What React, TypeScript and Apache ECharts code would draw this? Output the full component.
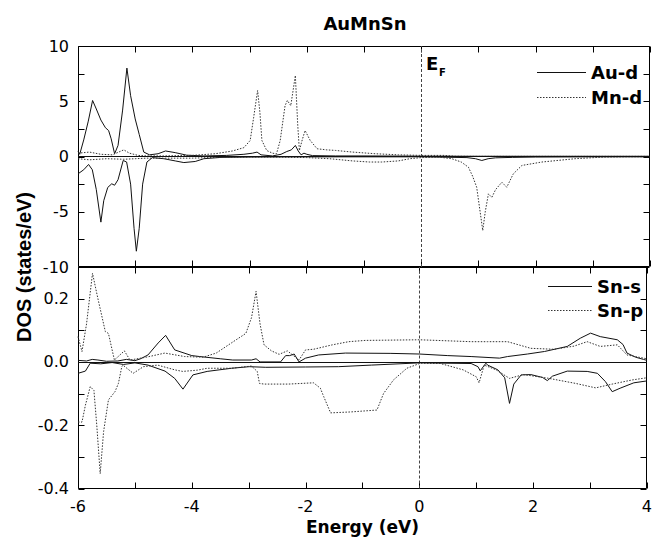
import React, { useEffect, useRef } from "react";
import * as echarts from "echarts";

// ---- Data (energy in eV, DOS in states/eV) ----
const auUpE = [-6, -5.97, -5.9, -5.82, -5.745, -5.68, -5.6, -5.52, -5.465, -5.42, -5.36, -5.3, -5.22, -5.145, -5.08, -5.0, -4.93, -4.85, -4.75, -4.6, -4.47, -4.3, -4.1, -3.8, -3.4, -3.1, -2.95, -2.87, -2.8, -2.6, -2.45, -2.35, -2.27, -2.2, -2.15, -2.1, -2.05, -2.0, -1.9, -1.5, -1, 0, 1, 2, 3, 4];
const auUpV = [0.5, 0.2, 1.5, 3.2, 5.07, 4.3, 3.3, 2.6, 2.35, 1.6, 0.25, 1.0, 4.2, 8.0, 5.5, 3.4, 2.0, 0.4, 0.15, 0.25, 0.5, 0.35, 0.12, 0.05, 0.1, 0.2, 0.3, 0.4, 0.15, 0.05, 0.2, 0.45, 0.6, 1.0, 0.5, 0.15, 0.3, 0.2, 0.08, 0.05, 0.05, 0.03, 0.02, 0.02, 0.02, 0.02];

const auDnE = [-6, -5.9, -5.815, -5.75, -5.68, -5.6, -5.55, -5.48, -5.41, -5.36, -5.3, -5.21, -5.15, -5.08, -5.02, -4.98, -4.93, -4.87, -4.795, -4.7, -4.5, -4.3, -4.15, -3.95, -3.8, -3.5, -3, -2, -1, 0, 0.8, 0.95, 1.06, 1.17, 1.3, 1.6, 2, 3, 4];
const auDnV = [-1.57, -1.2, -0.72, -1.2, -3.0, -5.94, -4.0, -2.8, -2.47, -2.6, -2.1, -0.36, -0.5, -2.5, -6.5, -8.57, -6.5, -2.5, -0.5, -0.1, -0.2, -0.4, -0.55, -0.45, -0.2, -0.08, -0.05, -0.03, -0.03, -0.03, -0.1, -0.2, -0.36, -0.2, -0.12, -0.08, -0.05, -0.03, -0.03];

const mnUpE = [-6, -5.8, -5.6, -5.4, -5.2, -5.1, -4.95, -4.8, -4.5, -4.0, -3.6, -3.3, -3.1, -2.99, -2.93, -2.86, -2.82, -2.785, -2.7, -2.6, -2.53, -2.465, -2.38, -2.34, -2.28, -2.2, -2.16, -2.13, -2.08, -2.03, -1.94, -1.82, -1.65, -1.5, -1.2, -0.8, -0.4, 0, 0.4, 0.6, 1, 2, 3, 4];
const mnUpV = [0.3, 0.4, 0.2, 0.15, 0.6, 0.3, 0.1, 0.05, 0.05, 0.1, 0.25, 0.5, 0.8, 1.45, 3.5, 5.97, 4.0, 1.45, 0.54, 0.3, 0.24, 1.45, 4.6, 5.07, 4.6, 7.33, 3.0, 0.54, 1.5, 2.35, 1.45, 0.7, 0.6, 0.55, 0.4, 0.25, 0.15, 0.1, 0.1, 0.02, 0.01, 0.01, 0.01, 0.01];

const mnDnE = [-6, -5.8, -5.5, -5.2, -5.0, -4.8, -4.5, -4.0, -3.6, -3.0, -2.5, -2.0, -1.6, -1.2, -0.9, -0.69, -0.4, -0.2, 0, 0.3, 0.535, 0.7, 0.826, 0.9, 0.97, 1.03, 1.076, 1.12, 1.175, 1.235, 1.3, 1.41, 1.496, 1.61, 1.76, 2.11, 2.69, 3.2, 3.6, 4];
const mnDnV = [-0.2, -0.3, -0.2, -0.25, -0.2, -0.15, -0.15, -0.15, -0.08, -0.05, -0.05, -0.1, -0.2, -0.4, -0.5, -0.5, -0.4, -0.2, -0.1, -0.05, -0.2, -0.5, -0.97, -1.8, -2.78, -5.0, -6.7, -5.0, -3.38, -3.7, -3.0, -2.33, -2.78, -1.57, -0.81, -0.5, -0.2, -0.05, -0.02, -0.02];

const snsUpE = [-6, -5.85, -5.75, -5.65, -5.5, -5.3, -5.15, -5.0, -4.9, -4.77, -4.59, -4.46, -4.3, -4.0, -3.86, -3.5, -3.28, -2.95, -2.87, -2.8, -2.44, -2.35, -2.28, -2.2, -2.115, -2.0, -1.77, -1.3, -0.5, 0, 0.5, 0.91, 1.41, 1.55, 1.9, 2.2, 2.6, 2.83, 3.01, 3.18, 3.48, 3.58, 3.65, 3.8, 3.94, 4];
const snsUpV = [0.005, 0.003, 0.008, 0.006, 0.002, 0.003, 0.008, 0.004, 0.01, 0.022, 0.06, 0.084, 0.038, 0.02, 0.017, 0.01, 0.006, 0.006, 0.01, 0.0, 0.0, 0.02, 0.02, 0.025, 0.0, 0.012, 0.022, 0.028, 0.027, 0.025, 0.02, 0.017, 0.012, 0.017, 0.025, 0.033, 0.049, 0.075, 0.091, 0.08, 0.07, 0.055, 0.028, 0.015, 0.008, 0.005];

const snsDnE = [-6, -5.87, -5.785, -5.6, -5.4, -5.2, -5.0, -4.77, -4.47, -4.3, -4.155, -3.98, -3.73, -3.3, -2.99, -2.7, -2.0, -1.42, -0.84, 0, 0.91, 1.03, 1.07, 1.17, 1.2, 1.38, 1.5, 1.585, 1.66, 1.79, 1.96, 2.165, 2.25, 2.34, 2.6, 2.95, 3.13, 3.27, 3.39, 3.53, 3.77, 4];
const snsDnV = [-0.036, -0.029, -0.004, -0.006, -0.002, -0.008, -0.003, -0.01, -0.029, -0.052, -0.086, -0.041, -0.03, -0.02, -0.015, -0.017, -0.016, -0.015, -0.01, -0.003, -0.005, -0.015, -0.028, -0.004, -0.01, -0.025, -0.05, -0.131, -0.07, -0.041, -0.04, -0.049, -0.059, -0.045, -0.029, -0.03, -0.036, -0.062, -0.094, -0.083, -0.066, -0.06];

const snpUpE = [-6, -5.93, -5.85, -5.745, -5.65, -5.52, -5.465, -5.36, -5.185, -5.086, -4.8, -4.474, -4.125, -3.8, -3.57, -3.22, -3.05, -2.95, -2.87, -2.8, -2.73, -2.6, -2.465, -2.32, -2.115, -2.0, -1.86, -1.53, -1.24, -0.95, 0, 0.91, 1.2, 1.55, 1.96, 2.37, 2.72, 2.95, 3.18, 3.48, 3.65, 3.94, 4];
const snpUpV = [0.08, 0.033, 0.12, 0.28, 0.2, 0.096, 0.09, 0.006, 0.035, 0.006, 0.015, 0.028, 0.017, 0.015, 0.028, 0.07, 0.09, 0.14, 0.223, 0.12, 0.054, 0.035, 0.024, 0.035, 0.006, 0.038, 0.04, 0.054, 0.064, 0.068, 0.07, 0.064, 0.064, 0.064, 0.043, 0.04, 0.05, 0.064, 0.049, 0.054, 0.022, 0.012, 0.01];

const snpDnE = [-6, -5.93, -5.87, -5.785, -5.72, -5.67, -5.61, -5.55, -5.465, -5.35, -5.29, -5.23, -5.21, -5.03, -4.85, -4.6, -4.3, -4.16, -3.9, -3.73, -3.3, -2.95, -2.85, -2.81, -2.73, -2.3, -1.86, -1.74, -1.68, -1.56, -1.2, -0.745, -0.63, -0.455, -0.22, 0.02, 0.37, 0.77, 1.0, 1.05, 1.14, 1.35, 1.585, 1.83, 2.28, 2.75, 3.1, 3.39, 3.74, 4];
const snpDnV = [-0.19, -0.19, -0.137, -0.078, -0.09, -0.2, -0.353, -0.22, -0.12, -0.094, -0.068, -0.015, -0.01, -0.036, -0.015, -0.01, -0.025, -0.03, -0.026, -0.02, -0.02, -0.013, -0.03, -0.068, -0.07, -0.07, -0.066, -0.083, -0.11, -0.161, -0.158, -0.152, -0.1, -0.057, -0.02, -0.004, -0.005, -0.025, -0.047, -0.066, -0.01, -0.025, -0.052, -0.04, -0.052, -0.068, -0.082, -0.07, -0.057, -0.05];

const energyRange = [-6, 4];
const topRange = [-10, 10];
const bottomRange = [-0.4, 0.3];
const fermiLevel = 0;

// tick positions (every tick gets a mark; labels only on every other one)
const energyTicks = [-6, -5, -4, -3, -2, -1, 0, 1, 2, 3, 4];
const topTicks = [-10, -7.5, -5, -2.5, 0, 2.5, 5, 7.5, 10];
const bottomTicks = [-0.4, -0.3, -0.2, -0.1, 0, 0.1, 0.2, 0.3];

const titleText = "AuMnSn";
const xName = "Energy (eV)";
const yName = "DOS (states/eV)";
const topLegend = ["Au-d", "Mn-d"];
const bottomLegend = ["Sn-s", "Sn-p"];

const FONT = "DejaVu Sans";
const W = 655;
const H = 540;
const GRIDS = [
  { left: 78, right: 5, top: 46, height: 221 },
  { left: 78, right: 5, top: 267, height: 221.5 },
];

const zip = (xs: number[], ys: number[]) => xs.map((x, i) => [x, ys[i]]);

export default function App() {
  const ref = useRef<HTMLDivElement>(null);

  useEffect(() => {
    if (!ref.current) return;
    const chart = echarts.init(ref.current, undefined, { renderer: "svg" });

    const labelStyle = () => ({ fontFamily: FONT, fontSize: 16, color: "#000" });

    const xAx = (grid: number, label: any) => ({
      type: "value",
      gridIndex: grid,
      position: "bottom",
      min: energyRange[0],
      max: energyRange[1],
      interval: 1,
      splitLine: { show: false },
      axisTick: { show: false },
      axisLine: { show: false, onZero: false },
      axisLabel: label,
    });
    const yAx = (grid: number, range: number[], interval: number, label: any) => ({
      type: "value",
      gridIndex: grid,
      position: "left",
      min: range[0],
      max: range[1],
      interval,
      splitLine: { show: false },
      axisTick: { show: false },
      axisLine: { show: false, onZero: false },
      axisLabel: label,
    });

    const solid = () => ({ color: "#111", width: 1, type: "solid" });
    const dotted = () => ({ color: "#333", width: 1, type: [1.5, 1.5] });

    const mkSeries = (name: string, xi: number, xs: number[], ys: number[], ls: any, extra: any = {}) => ({
      type: "line",
      name,
      xAxisIndex: xi,
      yAxisIndex: xi,
      data: zip(xs, ys),
      showSymbol: false,
      symbol: "none",
      lineStyle: ls,
      itemStyle: { color: ls.color },
      z: 3,
      ...extra,
    });

    const refLines = () => ({
      markLine: {
        silent: true,
        symbol: ["none", "none"],
        label: { show: false },
        data: [
          { xAxis: fermiLevel, lineStyle: { color: "#444", width: 1, type: [3, 2] } },
          { yAxis: 0, lineStyle: { color: "#111", width: 1, type: "solid" } },
        ],
      },
    });

    chart.setOption({
      animation: false,
      grid: GRIDS.map((g) => ({ ...g })),
      xAxis: [
        xAx(0, { show: false }),
        {
          ...xAx(1, {
            ...labelStyle(),
            margin: 10,
            formatter: (v: number) => (Math.round(v) % 2 === 0 ? String(Math.round(v)) : ""),
          }),
          name: xName,
          nameLocation: "middle",
          nameGap: 30,
          nameTextStyle: { fontFamily: FONT, fontSize: 17, fontWeight: "bold", color: "#000" },
        },
      ],
      yAxis: [
        yAx(0, topRange, 2.5, {
          ...labelStyle(),
          margin: 9,
          formatter: (v: number) => (Math.abs(v % 5) < 1e-9 ? String(v) : ""),
        }),
        yAx(1, bottomRange, 0.1, {
          ...labelStyle(),
          margin: 9,
          formatter: (v: number) => {
            const k = Math.round(v * 10);
            if (k % 2 !== 0 || k === 3) return "";
            const r = k / 10;
            return (r === 0 ? 0 : r).toFixed(1);
          },
        }),
      ],
      series: [
        mkSeries(topLegend[0], 0, auUpE, auUpV, solid(), refLines()),
        mkSeries(topLegend[0], 0, auDnE, auDnV, solid()),
        mkSeries(topLegend[1], 0, mnUpE, mnUpV, dotted()),
        mkSeries(topLegend[1], 0, mnDnE, mnDnV, dotted()),
        mkSeries(bottomLegend[0], 1, snsUpE, snsUpV, solid(), refLines()),
        mkSeries(bottomLegend[0], 1, snsDnE, snsDnV, solid()),
        mkSeries(bottomLegend[1], 1, snpUpE, snpUpV, dotted()),
        mkSeries(bottomLegend[1], 1, snpDnE, snpDnV, dotted()),
      ],
    });

    // pixel position of a data point, via the library's grid; falls back to the grid layout
    const toPx = (gi: number, x: number, y: number, yRange: number[]): number[] => {
      let p: any = null;
      try {
        p = chart.convertToPixel({ gridIndex: gi }, [x, y]);
      } catch (e) {
        p = null;
      }
      if (Array.isArray(p) && isFinite(p[0]) && isFinite(p[1])) return p as number[];
      const g = GRIDS[gi];
      const w = W - g.left - g.right;
      return [
        g.left + ((x - energyRange[0]) / (energyRange[1] - energyRange[0])) * w,
        g.top + g.height - ((y - yRange[0]) / (yRange[1] - yRange[0])) * g.height,
      ];
    };

    const st = { stroke: "#000", lineWidth: 1 };
    const seg = (x1: number, y1: number, x2: number, y2: number) => ({ type: "line", shape: { x1, y1, x2, y2 }, style: st });
    const frame = (gi: number, yRange: number[], yTicks: number[]) => {
      const tl = toPx(gi, energyRange[0], yRange[1], yRange);
      const br = toPx(gi, energyRange[1], yRange[0], yRange);
      const L = Math.round(tl[0]) + 0.5;
      const T = Math.round(tl[1]) + 0.5;
      const R = Math.round(br[0]) - 0.5;
      const B = Math.round(br[1]) - 0.5;
      const out: any[] = [seg(L, T, R, T), seg(L, B, R, B), seg(L, T, L, B), seg(R, T, R, B)];
      energyTicks.forEach((v) => {
        const px = Math.round(toPx(gi, v, yRange[0], yRange)[0]) + 0.5;
        out.push(seg(px, B, px, B - 6));
        out.push(seg(px, T, px, T + 6));
      });
      yTicks.forEach((v) => {
        const py = Math.round(toPx(gi, energyRange[0], v, yRange)[1]) + 0.5;
        out.push(seg(L, py, L + 6, py));
        out.push(seg(R, py, R - 6, py));
      });
      return out;
    };

    const legendFont = `bold 18px "${FONT}"`;
    const legendItems = (names: string[], x1: number, x2: number, ys: number[]) =>
      names.flatMap((n, i) => [
        {
          type: "line",
          shape: { x1, y1: ys[i] + 0.5, x2, y2: ys[i] + 0.5 },
          style: i === 0 ? { stroke: "#111", lineWidth: 1 } : { stroke: "#333", lineWidth: 1, lineDash: [1.5, 1.5] },
        },
        {
          type: "text",
          x: x2 + 5,
          y: ys[i],
          style: { text: n, font: legendFont, fill: "#000", align: "left", verticalAlign: "middle" },
        },
      ]);

    chart.setOption({
      graphic: [
        ...frame(0, topRange, topTicks),
        ...frame(1, bottomRange, bottomTicks),
        {
          type: "text",
          x: 365,
          y: 23,
          style: { text: titleText, font: `bold 18px "${FONT}"`, fill: "#000", align: "center", verticalAlign: "middle" },
        },
        {
          type: "text",
          x: 24,
          y: 267,
          rotation: Math.PI / 2,
          style: { text: yName, font: `bold 20px "Liberation Sans"`, fill: "#000", align: "center", verticalAlign: "middle" },
        },
        {
          type: "text",
          x: 426,
          y: 63,
          style: { text: "E", font: `bold 18px "${FONT}"`, fill: "#000", align: "left", verticalAlign: "middle" },
        },
        {
          type: "text",
          x: 439,
          y: 72,
          style: { text: "F", font: `bold 10px "${FONT}"`, fill: "#000", align: "left", verticalAlign: "middle" },
        },
        ...legendItems(topLegend, 537, 586, [72, 97]),
        ...legendItems(bottomLegend, 548, 592, [286, 310]),
      ],
    });

    return () => chart.dispose();
  }, []);

  return <div ref={ref} style={{ position: "absolute", left: 0, top: 0, width: W, height: H }} />;
}
